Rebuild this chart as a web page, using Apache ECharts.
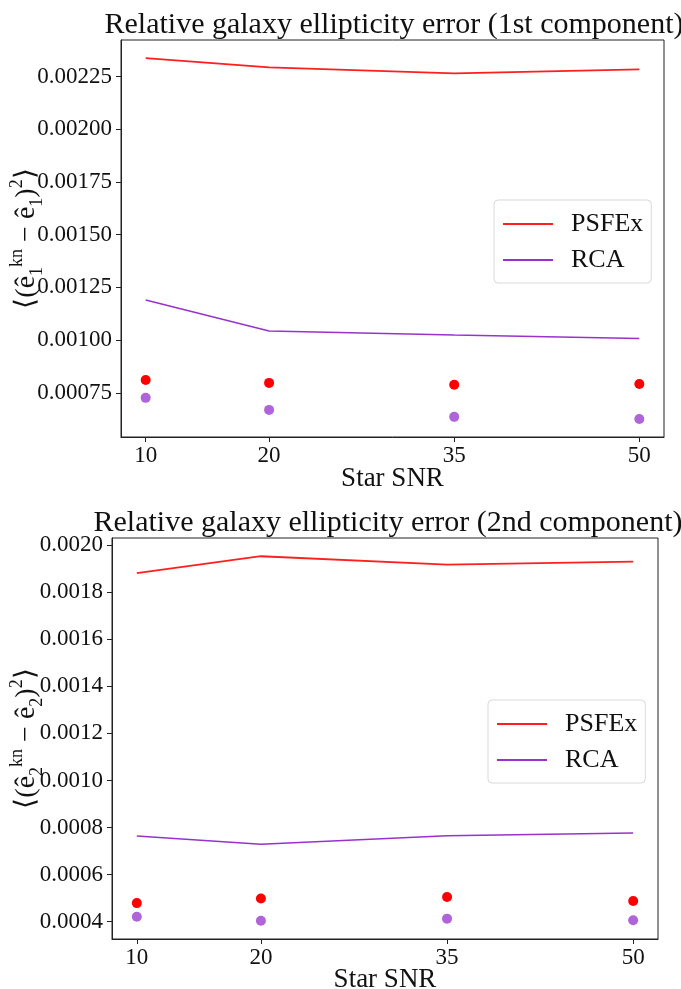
<!DOCTYPE html>
<html>
<head>
<meta charset="utf-8">
<script src="https://cdn.jsdelivr.net/npm/echarts@6/dist/echarts.min.js"></script>
<style>
  html, body { margin: 0; padding: 0; background: #fff; }
  #chart { width: 681px; height: 989px; }
</style>
</head>
<body>
<div id="chart"></div>
<script>
// Star signal-to-noise ratios on the x axis
const snr = [10, 20, 35, 50];
const xTicks = [10, 20, 35, 50];

// 1st ellipticity component
const psfexLine1 = [0.002338, 0.002294, 0.002265, 0.002284];
const rcaLine1   = [0.001190, 0.001043, 0.001024, 0.001008];
const psfexDots1 = [0.000811, 0.000797, 0.000788, 0.000792];
const rcaDots1   = [0.000726, 0.000669, 0.000636, 0.000626];
const yTicks1 = [0.00075, 0.00100, 0.00125, 0.00150, 0.00175, 0.00200, 0.00225];

// 2nd ellipticity component
const psfexLine2 = [0.001881, 0.001953, 0.001917, 0.001930];
const rcaLine2   = [0.000764, 0.000729, 0.000765, 0.000777];
const psfexDots2 = [0.000479, 0.000499, 0.000505, 0.000488];
const rcaDots2   = [0.000421, 0.000404, 0.000413, 0.000406];
const yTicks2 = [0.0004, 0.0006, 0.0008, 0.0010, 0.0012, 0.0014, 0.0016, 0.0018, 0.0020];

const FONT = 'Liberation Serif';
const RED_LINE = '#ff1f1f';
const RED_DOT = '#ff0000';
const PURPLE_LINE = '#9932cc';
const PURPLE_DOT = '#b064da';

// axis range with a 5% margin around the data, like a default plot
function paddedRange(arrays) {
  const all = [].concat(...arrays);
  const lo = Math.min(...all), hi = Math.max(...all);
  const pad = (hi - lo) * 0.05;
  return [lo - pad, hi + pad];
}
const xPad = (Math.max(...snr) - Math.min(...snr)) * 0.05;
const xRange = [Math.min(...snr) - xPad, Math.max(...snr) + xPad];
const yRange1 = paddedRange([psfexLine1, rcaLine1, psfexDots1, rcaDots1]);
const yRange2 = paddedRange([psfexLine2, rcaLine2, psfexDots2, rcaDots2]);

const pairs = vals => snr.map((x, i) => [x, vals[i]]);

function xAxisFor(gridIndex, gap) {
  return {
    type: 'value', gridIndex, min: xRange[0], max: xRange[1],
    name: 'Star SNR', nameLocation: 'middle', nameGap: gap, nameMoveOverlap: false,
    nameTextStyle: { fontFamily: FONT, fontSize: 27, color: '#111' },
    axisLine: { show: true, lineStyle: { color: '#222', width: 1 } },
    axisTick: { show: true, length: 5, customValues: xTicks, lineStyle: { color: '#222' } },
    axisLabel: { customValues: xTicks, fontFamily: FONT, fontSize: 23, color: '#111', margin: 7 },
    splitLine: { show: false }
  };
}

function yLabel(idx) {
  return '{a|⟨(ê}{b|' + idx + '}{c|kn}{a| − ê}{b|' + idx + '}{a|)}{c|2}{a|⟩}';
}

function yAxisFor(gridIndex, range, ticks, digits, gap, idx) {
  return {
    type: 'value', gridIndex, min: range[0], max: range[1],
    name: yLabel(idx), nameLocation: 'middle', nameGap: gap, nameRotate: 90, nameMoveOverlap: false,
    nameTextStyle: {
      fontFamily: FONT, color: '#111',
      rich: {
        a: { fontFamily: FONT, fontSize: 28, lineHeight: 38, color: '#111' },
        b: { fontFamily: FONT, fontSize: 18, verticalAlign: 'bottom', color: '#111' },
        c: { fontFamily: FONT, fontSize: 18, verticalAlign: 'top', color: '#111' }
      }
    },
    axisLine: { show: true, lineStyle: { color: '#222', width: 1 } },
    axisTick: { show: true, length: 5, customValues: ticks, lineStyle: { color: '#222' } },
    axisLabel: {
      customValues: ticks, fontFamily: FONT, fontSize: 23, color: '#111', margin: 9,
      formatter: v => v.toFixed(digits)
    },
    splitLine: { show: false }
  };
}

function lineSeries(name, data, color, width, axisIndex) {
  return {
    type: 'line', name, data: pairs(data), xAxisIndex: axisIndex, yAxisIndex: axisIndex,
    symbol: 'none', lineStyle: { color, width }, itemStyle: { color },
    emphasis: { disabled: true }, z: 2
  };
}
function dotSeries(data, color, axisIndex) {
  return {
    type: 'scatter', data: pairs(data), xAxisIndex: axisIndex, yAxisIndex: axisIndex,
    symbol: 'circle', symbolSize: 10, itemStyle: { color, opacity: 1 },
    emphasis: { disabled: true }, z: 3
  };
}

function legendFor(left, top) {
  return {
    data: [
      { name: 'PSFEx', icon: 'rect' },
      { name: 'RCA', icon: 'rect' }
    ],
    orient: 'vertical', left, top,
    itemWidth: 50, itemHeight: 2, itemGap: 10,
    padding: [11, 8, 10, 9],
    borderColor: '#d9d9d9', borderWidth: 1, borderRadius: 4, backgroundColor: '#fff',
    textStyle: { fontFamily: FONT, fontSize: 26, color: '#111', lineHeight: 24, padding: [0, 0, 0, 13] },
    selectedMode: false
  };
}

const chart = echarts.init(document.getElementById('chart'), null, { renderer: 'canvas' });
chart.setOption({
  animation: false,
  backgroundColor: '#fff',
  title: [
    { text: 'Relative galaxy ellipticity error (1st component)', left: 389, textAlign: 'center', top: 5,
      textStyle: { fontFamily: FONT, fontSize: 30, fontWeight: 'normal', color: '#111' } },
    { text: 'Relative galaxy ellipticity error (2nd component)', left: 383, textAlign: 'center', top: 503,
      textStyle: { fontFamily: FONT, fontSize: 30, fontWeight: 'normal', color: '#111' } }
  ],
  legend: [legendFor(494, 200), legendFor(488, 700)],
  grid: [
    { left: 121, top: 40, width: 543, height: 397, show: true, borderColor: '#222', borderWidth: 1,
      containLabel: false, outerBoundsMode: 'none' },
    { left: 112, top: 538, width: 546, height: 401, show: true, borderColor: '#222', borderWidth: 1,
      containLabel: false, outerBoundsMode: 'none' }
  ],
  xAxis: [xAxisFor(0, 28), xAxisFor(1, 27)],
  yAxis: [
    yAxisFor(0, yRange1, yTicks1, 5, 75, 1),
    yAxisFor(1, yRange2, yTicks2, 4, 66, 2)
  ],
  series: [
    lineSeries('PSFEx', psfexLine1, RED_LINE, 1.8, 0),
    lineSeries('RCA', rcaLine1, PURPLE_LINE, 1.5, 0),
    dotSeries(psfexDots1, RED_DOT, 0),
    dotSeries(rcaDots1, PURPLE_DOT, 0),
    lineSeries('PSFEx', psfexLine2, RED_LINE, 1.8, 1),
    lineSeries('RCA', rcaLine2, PURPLE_LINE, 1.5, 1),
    dotSeries(psfexDots2, RED_DOT, 1),
    dotSeries(rcaDots2, PURPLE_DOT, 1)
  ]
});
</script>
</body>
</html>
